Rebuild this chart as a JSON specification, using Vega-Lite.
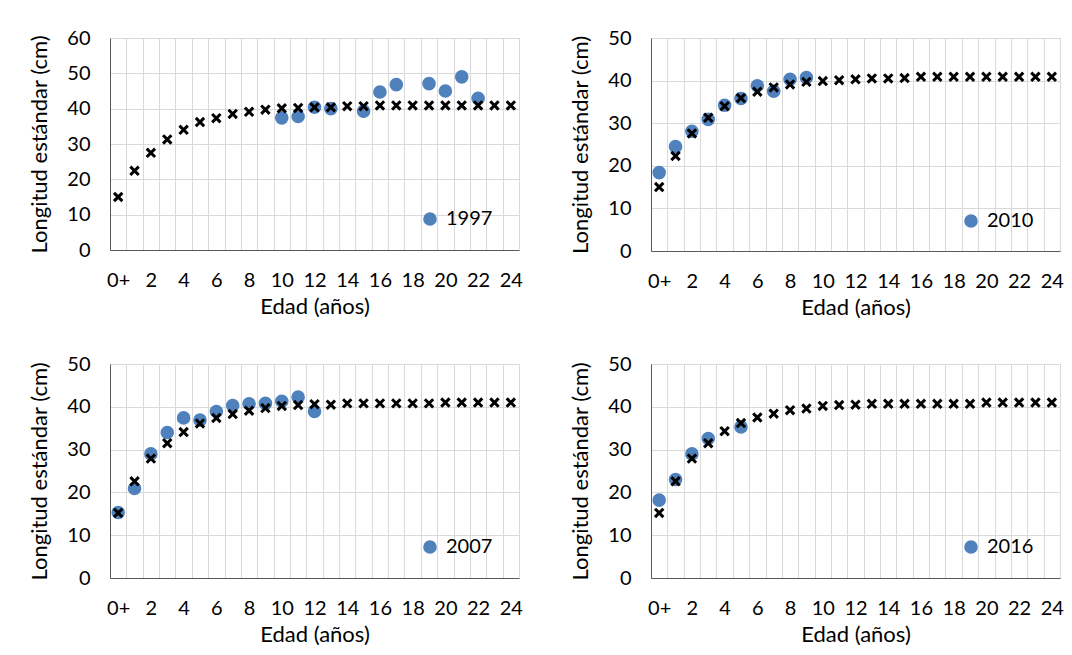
{
  "$schema": "https://vega.github.io/schema/vega-lite/v6.json",
  "padding": {"left": 28, "top": 27, "right": 0, "bottom": 0},
  "background": "white",
  "datasets": {
    "o1997": [
      {"edad": "10", "lt": 37.4, "anio": "1997"},
      {"edad": "11", "lt": 37.8, "anio": "1997"},
      {"edad": "12", "lt": 40.4, "anio": "1997"},
      {"edad": "13", "lt": 40.0, "anio": "1997"},
      {"edad": "15", "lt": 39.3, "anio": "1997"},
      {"edad": "16", "lt": 44.7, "anio": "1997"},
      {"edad": "17", "lt": 46.8, "anio": "1997"},
      {"edad": "19", "lt": 47.1, "anio": "1997"},
      {"edad": "20", "lt": 45.0, "anio": "1997"},
      {"edad": "21", "lt": 49.0, "anio": "1997"},
      {"edad": "22", "lt": 42.9, "anio": "1997"}
    ],
    "m1997": [
      {"edad": "0+", "lt": 15.0}, {"edad": "1", "lt": 22.4}, {"edad": "2", "lt": 27.5}, {"edad": "3", "lt": 31.3},
      {"edad": "4", "lt": 34.0}, {"edad": "5", "lt": 36.2}, {"edad": "6", "lt": 37.3}, {"edad": "7", "lt": 38.5},
      {"edad": "8", "lt": 39.1}, {"edad": "9", "lt": 39.7}, {"edad": "10", "lt": 40.1}, {"edad": "11", "lt": 40.2},
      {"edad": "12", "lt": 40.4}, {"edad": "13", "lt": 40.4}, {"edad": "14", "lt": 40.7}, {"edad": "15", "lt": 40.7},
      {"edad": "16", "lt": 40.9}, {"edad": "17", "lt": 40.9}, {"edad": "18", "lt": 40.9}, {"edad": "19", "lt": 40.9},
      {"edad": "20", "lt": 40.9}, {"edad": "21", "lt": 40.9}, {"edad": "22", "lt": 40.9}, {"edad": "23", "lt": 40.9},
      {"edad": "24", "lt": 40.9}
    ],
    "o2010": [
      {"edad": "0+", "lt": 18.4, "anio": "2010"},
      {"edad": "1", "lt": 24.5, "anio": "2010"},
      {"edad": "2", "lt": 28.1, "anio": "2010"},
      {"edad": "3", "lt": 30.9, "anio": "2010"},
      {"edad": "4", "lt": 34.2, "anio": "2010"},
      {"edad": "5", "lt": 35.8, "anio": "2010"},
      {"edad": "6", "lt": 38.8, "anio": "2010"},
      {"edad": "7", "lt": 37.5, "anio": "2010"},
      {"edad": "8", "lt": 40.3, "anio": "2010"},
      {"edad": "9", "lt": 40.7, "anio": "2010"}
    ],
    "m2010": [
      {"edad": "0+", "lt": 15.0}, {"edad": "1", "lt": 22.3}, {"edad": "2", "lt": 27.6}, {"edad": "3", "lt": 31.3},
      {"edad": "4", "lt": 34.0}, {"edad": "5", "lt": 35.9}, {"edad": "6", "lt": 37.4}, {"edad": "7", "lt": 38.4},
      {"edad": "8", "lt": 39.1}, {"edad": "9", "lt": 39.7}, {"edad": "10", "lt": 39.9}, {"edad": "11", "lt": 40.1},
      {"edad": "12", "lt": 40.3}, {"edad": "13", "lt": 40.5}, {"edad": "14", "lt": 40.5}, {"edad": "15", "lt": 40.6},
      {"edad": "16", "lt": 40.9}, {"edad": "17", "lt": 40.9}, {"edad": "18", "lt": 40.9}, {"edad": "19", "lt": 40.9},
      {"edad": "20", "lt": 40.9}, {"edad": "21", "lt": 40.9}, {"edad": "22", "lt": 40.9}, {"edad": "23", "lt": 40.9},
      {"edad": "24", "lt": 40.9}
    ],
    "o2007": [
      {"edad": "0+", "lt": 15.3, "anio": "2007"},
      {"edad": "1", "lt": 20.9, "anio": "2007"},
      {"edad": "2", "lt": 29.0, "anio": "2007"},
      {"edad": "3", "lt": 34.0, "anio": "2007"},
      {"edad": "4", "lt": 37.4, "anio": "2007"},
      {"edad": "5", "lt": 36.9, "anio": "2007"},
      {"edad": "6", "lt": 38.9, "anio": "2007"},
      {"edad": "7", "lt": 40.3, "anio": "2007"},
      {"edad": "8", "lt": 40.7, "anio": "2007"},
      {"edad": "9", "lt": 40.8, "anio": "2007"},
      {"edad": "10", "lt": 41.3, "anio": "2007"},
      {"edad": "11", "lt": 42.3, "anio": "2007"},
      {"edad": "12", "lt": 38.9, "anio": "2007"}
    ],
    "m2007": [
      {"edad": "0+", "lt": 15.2}, {"edad": "1", "lt": 22.6}, {"edad": "2", "lt": 27.9}, {"edad": "3", "lt": 31.5},
      {"edad": "4", "lt": 34.1}, {"edad": "5", "lt": 36.1}, {"edad": "6", "lt": 37.4}, {"edad": "7", "lt": 38.3},
      {"edad": "8", "lt": 39.1}, {"edad": "9", "lt": 39.7}, {"edad": "10", "lt": 40.2}, {"edad": "11", "lt": 40.4},
      {"edad": "12", "lt": 40.6}, {"edad": "13", "lt": 40.5}, {"edad": "14", "lt": 40.8}, {"edad": "15", "lt": 40.8},
      {"edad": "16", "lt": 40.8}, {"edad": "17", "lt": 40.8}, {"edad": "18", "lt": 40.8}, {"edad": "19", "lt": 40.8},
      {"edad": "20", "lt": 41.0}, {"edad": "21", "lt": 41.0}, {"edad": "22", "lt": 41.0}, {"edad": "23", "lt": 41.0},
      {"edad": "24", "lt": 41.0}
    ],
    "o2016": [
      {"edad": "0+", "lt": 18.2, "anio": "2016"},
      {"edad": "1", "lt": 23.0, "anio": "2016"},
      {"edad": "2", "lt": 29.0, "anio": "2016"},
      {"edad": "3", "lt": 32.6, "anio": "2016"},
      {"edad": "5", "lt": 35.3, "anio": "2016"}
    ],
    "m2016": [
      {"edad": "0+", "lt": 15.2}, {"edad": "1", "lt": 22.6}, {"edad": "2", "lt": 27.9}, {"edad": "3", "lt": 31.5},
      {"edad": "4", "lt": 34.3}, {"edad": "5", "lt": 36.2}, {"edad": "6", "lt": 37.5}, {"edad": "7", "lt": 38.4},
      {"edad": "8", "lt": 39.2}, {"edad": "9", "lt": 39.6}, {"edad": "10", "lt": 40.2}, {"edad": "11", "lt": 40.4},
      {"edad": "12", "lt": 40.5}, {"edad": "13", "lt": 40.7}, {"edad": "14", "lt": 40.7}, {"edad": "15", "lt": 40.7},
      {"edad": "16", "lt": 40.7}, {"edad": "17", "lt": 40.7}, {"edad": "18", "lt": 40.7}, {"edad": "19", "lt": 40.7},
      {"edad": "20", "lt": 41.0}, {"edad": "21", "lt": 41.0}, {"edad": "22", "lt": 41.0}, {"edad": "23", "lt": 41.0},
      {"edad": "24", "lt": 41.0}
    ]
  },
  "columns": 2,
  "spacing": {"column": 46, "row": 34},
  "resolve": {"scale": {"color": "independent", "y": "independent"}, "legend": {"color": "independent"}},
  "concat": [
    {
      "width": 409, "height": 212,
      "encoding": {
        "x": {"field": "edad", "type": "ordinal", "scale": {"type": "band", "paddingInner": 0, "paddingOuter": 0, "domain": ["0+","1","2","3","4","5","6","7","8","9","10","11","12","13","14","15","16","17","18","19","20","21","22","23","24"]}, "axis": {"title": "Edad (años)", "tickBand": "extent", "grid": true, "labelAngle": 0, "labelOverlap": false, "labelExpr": "datum.label == '0+' || (+datum.label) % 2 == 0 ? datum.label : ''"}},
        "y": {"field": "lt", "type": "quantitative", "scale": {"domain": [0, 60], "nice": false, "zero": true}, "axis": {"title": "Longitud estándar (cm)", "values": [0,10,20,30,40,50,60], "labelOverlap": false}}
      },
      "layer": [
        {"data": {"name": "o1997"},
         "mark": {"type": "point", "shape": "circle", "filled": true, "opacity": 1, "size": 185},
         "encoding": {
           "color": {"field": "anio", "type": "nominal", "scale": {"range": ["#4F81BD"]}, "legend": {"title": null, "orient": "none", "legendX": 310, "legendY": 171}}
         }},
        {"data": {"name": "m1997"},
         "mark": {"type": "point", "shape": "M-1,-1L1,1M1,-1L-1,1", "filled": false, "stroke": "#000000", "strokeWidth": 3, "size": 70, "opacity": 1}}
      ]
    },
    {
      "width": 409, "height": 213,
      "encoding": {
        "x": {"field": "edad", "type": "ordinal", "scale": {"type": "band", "paddingInner": 0, "paddingOuter": 0, "domain": ["0+","1","2","3","4","5","6","7","8","9","10","11","12","13","14","15","16","17","18","19","20","21","22","23","24"]}, "axis": {"title": "Edad (años)", "tickBand": "extent", "grid": true, "labelAngle": 0, "labelOverlap": false, "labelExpr": "datum.label == '0+' || (+datum.label) % 2 == 0 ? datum.label : ''"}},
        "y": {"field": "lt", "type": "quantitative", "scale": {"domain": [0, 50], "nice": false, "zero": true}, "axis": {"title": "Longitud estándar (cm)", "values": [0,10,20,30,40,50], "labelOverlap": false}}
      },
      "layer": [
        {"data": {"name": "o2010"},
         "mark": {"type": "point", "shape": "circle", "filled": true, "opacity": 1, "size": 185},
         "encoding": {
           "color": {"field": "anio", "type": "nominal", "scale": {"range": ["#4F81BD"]}, "legend": {"title": null, "orient": "none", "legendX": 310, "legendY": 173}}
         }},
        {"data": {"name": "m2010"},
         "mark": {"type": "point", "shape": "M-1,-1L1,1M1,-1L-1,1", "filled": false, "stroke": "#000000", "strokeWidth": 3, "size": 70, "opacity": 1}}
      ]
    },
    {
      "width": 409, "height": 214,
      "encoding": {
        "x": {"field": "edad", "type": "ordinal", "scale": {"type": "band", "paddingInner": 0, "paddingOuter": 0, "domain": ["0+","1","2","3","4","5","6","7","8","9","10","11","12","13","14","15","16","17","18","19","20","21","22","23","24"]}, "axis": {"title": "Edad (años)", "tickBand": "extent", "grid": true, "labelAngle": 0, "labelOverlap": false, "labelExpr": "datum.label == '0+' || (+datum.label) % 2 == 0 ? datum.label : ''"}},
        "y": {"field": "lt", "type": "quantitative", "scale": {"domain": [0, 50], "nice": false, "zero": true}, "axis": {"title": "Longitud estándar (cm)", "values": [0,10,20,30,40,50], "labelOverlap": false}}
      },
      "layer": [
        {"data": {"name": "o2007"},
         "mark": {"type": "point", "shape": "circle", "filled": true, "opacity": 1, "size": 185},
         "encoding": {
           "color": {"field": "anio", "type": "nominal", "scale": {"range": ["#4F81BD"]}, "legend": {"title": null, "orient": "none", "legendX": 310, "legendY": 173}}
         }},
        {"data": {"name": "m2007"},
         "mark": {"type": "point", "shape": "M-1,-1L1,1M1,-1L-1,1", "filled": false, "stroke": "#000000", "strokeWidth": 3, "size": 70, "opacity": 1}}
      ]
    },
    {
      "width": 409, "height": 214,
      "encoding": {
        "x": {"field": "edad", "type": "ordinal", "scale": {"type": "band", "paddingInner": 0, "paddingOuter": 0, "domain": ["0+","1","2","3","4","5","6","7","8","9","10","11","12","13","14","15","16","17","18","19","20","21","22","23","24"]}, "axis": {"title": "Edad (años)", "tickBand": "extent", "grid": true, "labelAngle": 0, "labelOverlap": false, "labelExpr": "datum.label == '0+' || (+datum.label) % 2 == 0 ? datum.label : ''"}},
        "y": {"field": "lt", "type": "quantitative", "scale": {"domain": [0, 50], "nice": false, "zero": true}, "axis": {"title": "Longitud estándar (cm)", "values": [0,10,20,30,40,50], "labelOverlap": false}}
      },
      "layer": [
        {"data": {"name": "o2016"},
         "mark": {"type": "point", "shape": "circle", "filled": true, "opacity": 1, "size": 185},
         "encoding": {
           "color": {"field": "anio", "type": "nominal", "scale": {"range": ["#4F81BD"]}, "legend": {"title": null, "orient": "none", "legendX": 310, "legendY": 173}}
         }},
        {"data": {"name": "m2016"},
         "mark": {"type": "point", "shape": "M-1,-1L1,1M1,-1L-1,1", "filled": false, "stroke": "#000000", "strokeWidth": 3, "size": 70, "opacity": 1}}
      ]
    }
  ],
  "config": {
    "font": "Lato",
    "view": {"stroke": "#d9d9d9"},
    "axis": {
      "labelFont": "Lato", "titleFont": "Lato",
      "labelFontSize": 20, "titleFontSize": 22,
      "labelColor": "#000000", "titleColor": "#000000",
      "titleFontWeight": "normal",
      "gridColor": "#d9d9d9", "gridWidth": 1,
      "domainColor": "#595959", "domainWidth": 1,
      "ticks": false, "labelOverlap": false
    },
    "axisX": {"labelPadding": 20, "titlePadding": 6},
    "axisY": {"labelPadding": 20, "titlePadding": 15},
    "legend": {"labelFont": "Lato", "labelFontSize": 20, "labelColor": "#000000", "symbolSize": 185, "labelOffset": 6, "padding": 0, "symbolStrokeWidth": 0}
  }
}
